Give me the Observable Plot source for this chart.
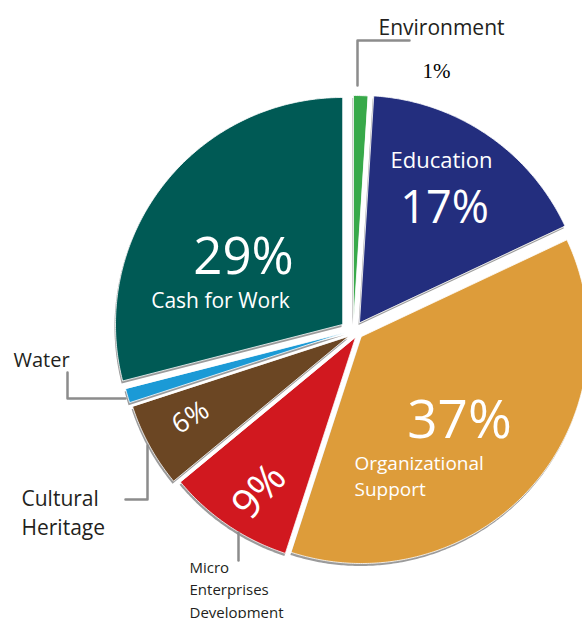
<!DOCTYPE html>
<html><head><meta charset="utf-8">
<script src="https://cdn.jsdelivr.net/npm/d3@7"></script>
<script src="https://cdn.jsdelivr.net/npm/@observablehq/plot@0.6"></script>
<style>html,body{margin:0;padding:0;background:#fff;overflow:hidden}</style>
</head><body><div id="chart"></div>
<script>
// ---- data ----
const categories = ["Environment","Education","Organizational Support","Micro Enterprises Development","Cultural Heritage","Water","Cash for Work"];
const shares = [1,17,37,9,6,1,29];
const shareLabels = ["1%","17%","37%","9%","6%","1%","29%"];
const colors = ["#38a94a","#232e7e","#dd9c3a","#d1181f","#6b4623","#1b9ad6","#005a55"];

// ---- layout (positions/styles) ----
const W = 582, H = 618, R = 227;
const centers = [[353,322],[359,322],[361,336],[355,337],[348,336],[345,332],[342,324]];
const font = "'Open Sans', sans-serif";

const pie = d3.pie().sort(null).value(d => d)(shares);
const slicePts = [];
pie.forEach((p, i) => {
  const [cx, cy] = centers[i];
  slicePts.push({category: categories[i], x: cx, y: cy});
  const n = Math.max(4, Math.ceil((p.endAngle - p.startAngle) / 0.01));
  for (let k = 0; k <= n; k++) {
    const a = p.startAngle + (p.endAngle - p.startAngle) * k / n;
    slicePts.push({category: categories[i], x: cx + R * Math.sin(a), y: cy - R * Math.cos(a)});
  }
});

const leaders = [
  {id: "env", pts: [[357,85],[357,40],[409,40]]},
  {id: "water", pts: [[67,372],[67,398],[125,398]]},
  {id: "cult", pts: [[125,499],[147,499],[147,445]]},
  {id: "micro", pts: [[238,532],[238,560]]}
].flatMap(l => l.pts.map(([x, y]) => ({id: l.id, x, y})));

const outsideLabels = [
  {text: categories[0], x: 378, y: 25, size: 21, anchor: "start"},
  {text: "Water", x: 13, y: 358, size: 20, anchor: "start"},
  {text: "Cultural\nHeritage", x: 21, y: 511, size: 21, anchor: "start"},
  {text: "Micro\nEnterprises\nDevelopment", x: 189, y: 587.5, size: 15, anchor: "start"}
];
const insideLabels = [
  {text: "Education", x: 441, y: 158, size: 22, anchor: "middle"},
  {text: shareLabels[1], x: 444, y: 203, size: 45, anchor: "middle"},
  {text: shareLabels[6], x: 243, y: 251, size: 51, anchor: "middle"},
  {text: categories[6], x: 220, y: 298, size: 21, anchor: "middle"},
  {text: shareLabels[2], x: 459, y: 414, size: 53, anchor: "middle"},
  {text: "Organizational\nSupport", x: 354, y: 474, size: 19, anchor: "start"}
];

const chart = Plot.plot({
  width: W, height: H, margin: 0,
  x: {domain: [0, W], range: [0, W], axis: null},
  y: {domain: [0, H], range: [0, H], axis: null},
  color: {domain: categories, range: colors},
  style: {background: "#fff"},
  marks: [
    Plot.line(slicePts, {x: "x", y: "y", z: "category", fill: "#9b9b9b", stroke: "none", curve: "linear-closed", dx: -1, dy: 2.5}),
    Plot.line(slicePts, {x: "x", y: "y", z: "category", fill: "category", stroke: "#fff", strokeWidth: 0.8, curve: "linear-closed"}),
    Plot.line(leaders, {x: "x", y: "y", z: "id", stroke: "#8c8c8c", strokeWidth: 2.5}),
    ...outsideLabels.map(d => Plot.text([d], {x: "x", y: "y", text: "text", fontSize: d.size, textAnchor: d.anchor, fill: "#231f20", fontFamily: font, lineHeight: d.size > 18 ? 1.38 : 1.5})),
    ...insideLabels.map(d => Plot.text([d], {x: "x", y: "y", text: "text", fontSize: d.size, textAnchor: d.anchor, fill: "#fff", fontFamily: font, lineHeight: 1.37})),
    Plot.text([shareLabels[0]], {x: () => 436, y: () => 71, text: d => d, fontSize: 21, fill: "#000", fontFamily: "'Liberation Serif', serif"}),
    Plot.text([shareLabels[4]], {x: () => 190, y: () => 417, text: d => d, fontSize: 27, fill: "#fff", fontFamily: font, rotate: -32}),
    Plot.text([shareLabels[3]], {x: () => 259, y: () => 491, text: d => d, fontSize: 41, fill: "#fff", fontFamily: font, rotate: -48})
  ]
});
document.getElementById("chart").appendChild(chart);
</script>
</body></html>
